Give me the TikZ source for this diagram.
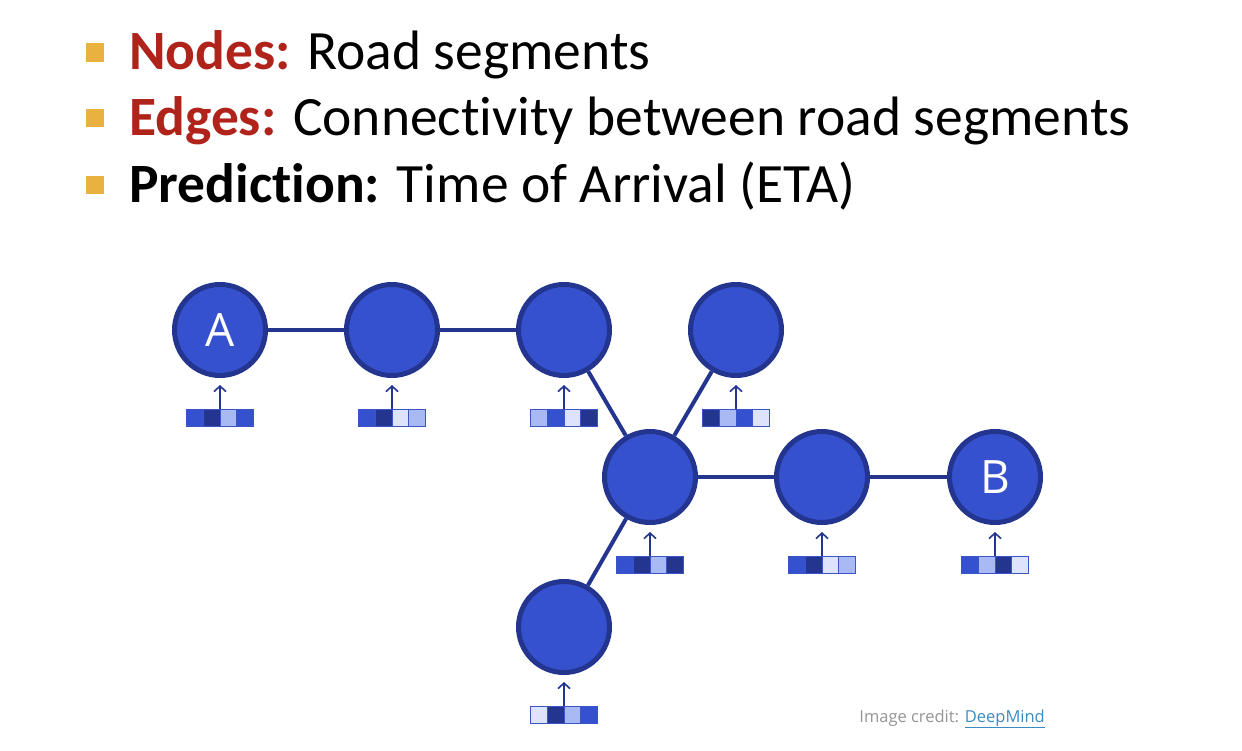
\documentclass[tikz,border=0pt]{standalone}
\usepackage{fontspec}
\setmainfont[Ligatures=NoCommon]{Carlito}
\newfontfamily\opensans{Open Sans}
\usetikzlibrary{arrows.meta,calc}
\definecolor{nodefill}{HTML}{3551CE}
\definecolor{nodeborder}{HTML}{23358F}
\definecolor{cD}{HTML}{24358F}
\definecolor{cM}{HTML}{3551CE}
\definecolor{cL}{HTML}{A9B9F3}
\definecolor{cV}{HTML}{DCE3FB}
\definecolor{cellborder}{HTML}{3A55C8}
\definecolor{bulletcol}{HTML}{E8B140}
\definecolor{headred}{HTML}{B0231B}
\definecolor{creditgray}{HTML}{959595}
\definecolor{linkblue}{HTML}{3A8BC2}
\newcommand\featbox[3]{%
  \foreach \c [count=\i] in {#3} {
    \node[cell, fill=\c, anchor=north west] (#1-\i) at ($(#2)+(-33.5+16.75*\i-16.75,79)$) {};
  }
  \draw[feedarrow] (#1-2.north east) -- (#2);
}
\begin{document}
\begin{tikzpicture}[x=1pt,y=-1pt,
  road/.style={circle, fill=nodefill, draw=nodeborder, line width=5, minimum size=91, inner sep=0,
    text=white, font=\opensans\fontsize{46}{46}\selectfont},
  roadedge/.style={draw=nodeborder, line width=4},
  cell/.style={draw=cellborder, line width=1, minimum width=16.75, minimum height=17, inner sep=0, outer sep=0},
  feedarrow/.style={draw=nodeborder, line width=1.6, shorten >=7, -{Straight Barb[length=5.5,width=12]}},
  bulletsq/.style={fill=bulletcol, minimum size=18.5, inner sep=0},
  bullettext/.style={anchor=base west, inner sep=0, font=\fontsize{55.5}{60}\selectfont},
]
\useasboundingbox (0,0) rectangle (1242,750);
% bullets
\node[bulletsq] (b1) at (95,52.5) {};
\node[bulletsq] (b2) at (95,118) {};
\node[bulletsq] (b3) at (95,185) {};
\node[bullettext] (t1) at (129,69) {\textcolor{headred}{\textbf{Nodes:}} Road segments};
\node[bullettext] (t2) at (129,135) {\textcolor{headred}{\textbf{Edges:}} Connectivity between road segments};
\node[bullettext] (t3) at (129,202) {\textbf{Prediction:} Time of Arrival (ETA)};
% road nodes
\node[road] (A) at (220,330) {A};
\node[road] (n2) at (392,330) {};
\node[road] (n3) at (564,330) {};
\node[road] (n4) at (736,330) {};
\node[road] (hub) at (650,477) {};
\node[road] (n6) at (822,477) {};
\node[road] (B) at (995,477) {B};
\node[road] (n8) at (564,627) {};
% edges
\draw[roadedge] (A) -- (n2);
\draw[roadedge] (n2) -- (n3);
\draw[roadedge] (n3) -- (hub);
\draw[roadedge] (n4) -- (hub);
\draw[roadedge] (hub) -- (n6);
\draw[roadedge] (n6) -- (B);
\draw[roadedge] (hub) -- (n8);
% feature vectors
\featbox{fA}{A}{cM,cD,cL,cM}
\featbox{f2}{n2}{cM,cD,cV,cL}
\featbox{f3}{n3}{cL,cM,cV,cD}
\featbox{f4}{n4}{cD,cL,cM,cV}
\featbox{fh}{hub}{cM,cD,cL,cD}
\featbox{f6}{n6}{cM,cD,cV,cL}
\featbox{fB}{B}{cM,cL,cD,cV}
\featbox{f8}{n8}{cV,cD,cL,cM}
% credit
\node[anchor=base east, inner sep=0, font=\opensans\fontsize{16.5}{18}\selectfont] (credit) at (1045,722)
  {\textcolor{creditgray}{Image credit:} \textcolor{linkblue}{\underline{DeepMind}}};
\end{tikzpicture}
\end{document}
